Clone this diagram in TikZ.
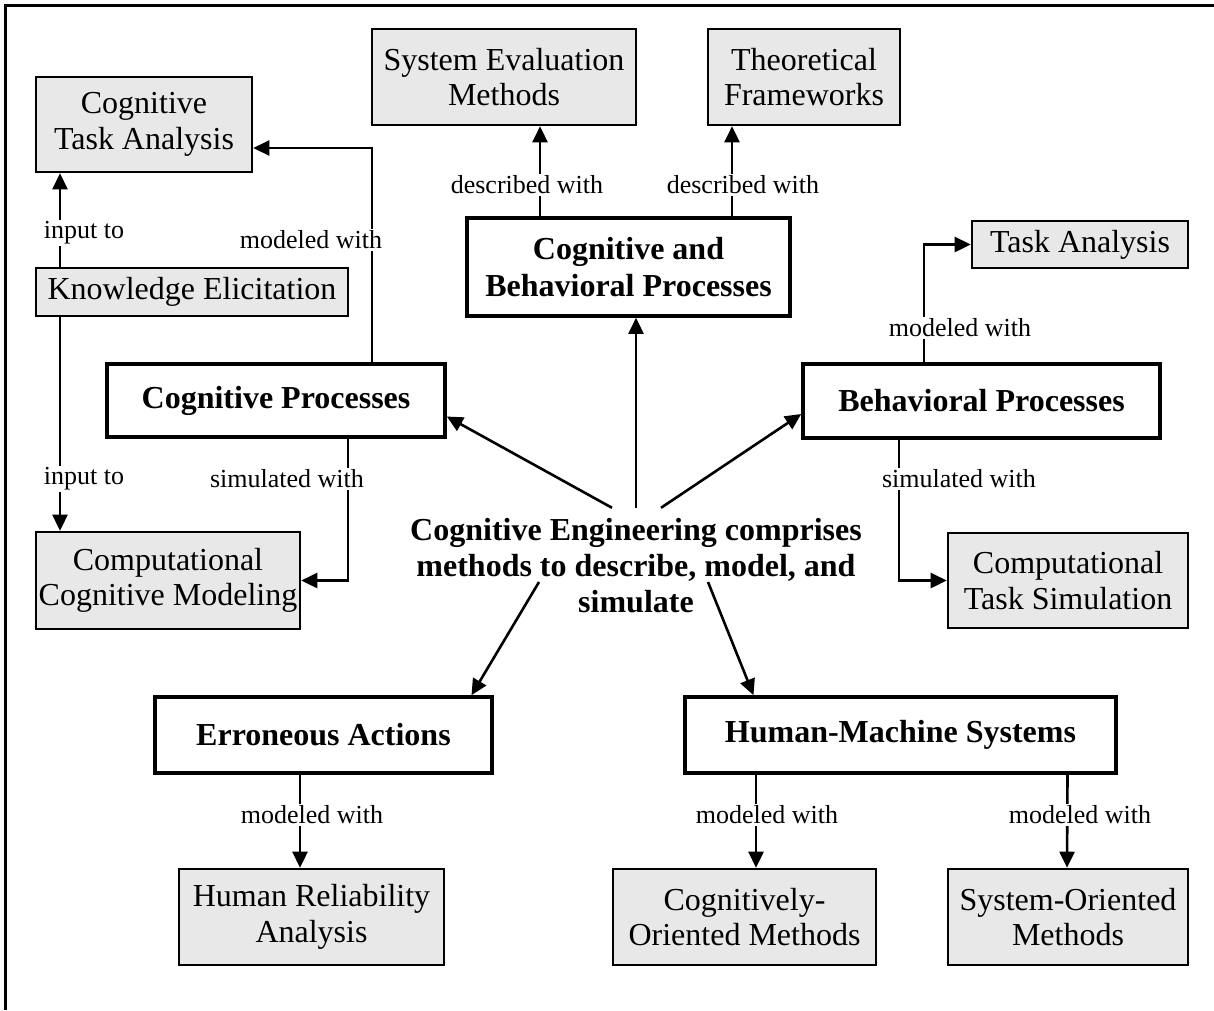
\documentclass[tikz,border=0pt]{standalone}
\usepackage{fontspec}
\setmainfont{Liberation Serif}
\usepackage{tikz}
\usetikzlibrary{arrows.meta}
\usetikzlibrary{positioning}

\definecolor{boxgray}{RGB}{232,232,232}
\tikzset{
  graybox/.style={draw, line width=2.6pt, fill=boxgray, align=center, inner sep=0pt, font=\fontsize{32}{35.5}\selectfont},
  boldbox/.style={draw, line width=3.6pt, fill=white, align=center, inner sep=0pt, font=\fontsize{32}{37}\selectfont\bfseries},
  lbl/.style={fill=white, inner sep=1.5pt, font=\fontsize{26}{30}\selectfont},
  arr/.style={line width=2.6pt, -{Triangle[length=16pt,width=15pt]}}
}

\begin{document}
\begin{tikzpicture}[x=1pt,y=-1pt]
\useasboundingbox (0,0) rectangle (1214,1010);
\draw[line width=3pt] (5,1010) -- (5,5) -- (1214,5);

% concepts
\node[boldbox,minimum width=323pt,minimum height=98pt] (cbp) at (628.5,267) {Cognitive and\\Behavioral Processes};
\node[boldbox,minimum width=338pt,minimum height=73pt] (cp) at (276,400.5) {Cognitive Processes};
\node[boldbox,minimum width=357pt,minimum height=74pt] (bp) at (981.5,401) {Behavioral Processes};
\node[boldbox,minimum width=337pt,minimum height=76pt] (ea) at (323.5,735) {Erroneous Actions};
\node[boldbox,minimum width=431pt,minimum height=76pt] (hms) at (900.5,735) {Human-Machine Systems};
\node[align=center,font=\fontsize{32}{36}\selectfont\bfseries,minimum height=116pt,inner sep=0pt] (ce) at (636,566)
  {Cognitive Engineering comprises\\methods to describe, model, and\\simulate};

% methods
\node[graybox,minimum width=216pt,minimum height=95pt] (cta) at (144,124.5) {Cognitive\\Task Analysis};
\node[graybox,minimum width=312pt,minimum height=48pt] (ke) at (192,292) {Knowledge Elicitation};
\node[graybox,minimum width=264pt,minimum height=96pt] (sem) at (504,77) {System Evaluation\\Methods};
\node[graybox,minimum width=192pt,minimum height=96pt] (tf) at (804,77) {Theoretical\\Frameworks};
\node[graybox,minimum width=216pt,minimum height=47pt] (ta) at (1080,244.5) {Task Analysis};
\node[graybox,minimum width=264pt,minimum height=97pt] (ccm) at (168,580.5) {Computational\\Cognitive Modeling};
\node[graybox,minimum width=240pt,minimum height=95pt] (cts) at (1068,580.5) {Computational\\Task Simulation};
\node[graybox,minimum width=265pt,minimum height=96pt] (hra) at (311.5,917) {Human Reliability\\Analysis};
\node[graybox,minimum width=263pt,minimum height=96pt] (com) at (744.5,917) {Cognitively-\\Oriented Methods};
\node[graybox,minimum width=240pt,minimum height=96pt] (som) at (1068,917) {System-Oriented\\Methods};

% from the centre
\draw[arr] (ce.north) -- (ce.north |- cbp.south);
\draw[arr] ([xshift=-24pt]ce.north) -- ([yshift=-16pt]cp.east);
\draw[arr] ([xshift=25pt]ce.north) -- ([yshift=-13pt]bp.west);
\draw[arr] ([xshift=-97pt,yshift=-16pt]ce.center) -- ([xshift=148pt]ea.north);
\draw[arr] ([xshift=72pt,yshift=-16pt]ce.center) -- ([xshift=-147pt]hms.north);

% relations
\draw[arr] ([xshift=-88.5pt]cbp.north) -- ([xshift=36pt]sem.south);
\draw[arr] ([xshift=103.5pt]cbp.north) -- ([xshift=-72pt]tf.south);
\draw[arr] ([xshift=96pt]cp.north) |- ([yshift=-23.5pt]cta.east);
\draw[arr] ([xshift=-132pt]ke.north) -- ([xshift=-84pt]cta.south);
\draw[arr] ([xshift=-132pt]ke.south) -- ([xshift=-108pt]ccm.north);
\draw[arr] ([xshift=72pt]cp.south) |- (ccm.east);
\draw[arr] ([xshift=-57.5pt]bp.north) |- (ta.west);
\draw[arr] ([xshift=-82.5pt]bp.south) |- (cts.west);
\draw[arr] ([xshift=-23.5pt]ea.south) -- ([xshift=-11.5pt]hra.north);
\draw[arr] ([xshift=-144.5pt]hms.south) -- ([xshift=11.5pt]com.north);
\draw[arr] ([xshift=167pt]hms.south) -- ([xshift=-1pt]som.north);

% labels
\node[lbl] at (527,185) {described with};
\node[lbl] at (743,185) {described with};
\node[lbl] at (311,240) {modeled with};
\node[lbl] at (84,233) {input to};
\node[lbl] at (84,479) {input to};
\node[lbl] at (287,479) {simulated with};
\node[lbl] at (960,328) {modeled with};
\node[lbl] at (959,479) {simulated with};
\node[lbl] at (312,815) {modeled with};
\node[lbl] at (767,815) {modeled with};
\node[lbl] at (1080,815) {modeled with};

\end{tikzpicture}
\end{document}
